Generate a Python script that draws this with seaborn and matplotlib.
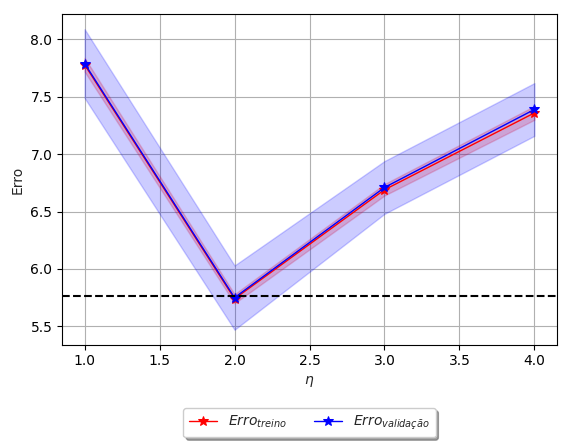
import matplotlib
matplotlib.use("Agg")
import matplotlib.pyplot as plt
import seaborn as sns
import numpy as np

eta = [1.0, 2.0, 3.0, 4.0]
treino = [7.78, 5.74, 6.69, 7.36]
treino_std = [0.06, 0.04, 0.05, 0.06]
valid = [7.79, 5.75, 6.71, 7.39]
valid_std = [0.30, 0.28, 0.23, 0.23]
baseline = 5.76

sns.set_style("ticks")
plt.rcParams['font.family'] = ['DejaVu Sans']
fig, ax = plt.subplots(figsize=(5.7, 4.42), dpi=100)
fig.subplots_adjust(left=0.109, right=0.977, top=0.968, bottom=0.22)

t = np.array(treino); ts = np.array(treino_std)
v = np.array(valid); vs = np.array(valid_std)
ax.fill_between(eta, t - ts, t + ts, color='red', alpha=0.2)
ax.fill_between(eta, v - vs, v + vs, color='blue', alpha=0.2)
sns.lineplot(x=eta, y=treino, ax=ax, color='red', marker='*', markersize=7,
             markeredgecolor='red', linewidth=1, label=r'$Erro_{treino}$')
sns.lineplot(x=eta, y=valid, ax=ax, color='blue', marker='*', markersize=7,
             markeredgecolor='blue', linewidth=1, label=r'$Erro_{validação}$')
ax.axhline(baseline, color='black', linestyle='--', linewidth=1.5)

ax.set_xlabel(r'$\eta$')
ax.set_ylabel('Erro')
ax.grid(True, color='#b0b0b0', linewidth=0.8)
for s in ax.spines.values():
    s.set_visible(True); s.set_color('black'); s.set_linewidth(0.8)
ax.tick_params(direction='out', length=3.5, width=0.8, colors='black', labelsize=10)
ax.legend(loc='upper center', bbox_to_anchor=(0.5, -0.17), ncol=2,
          fancybox=True, shadow=True, fontsize=10)
fig.savefig('out.png', dpi=100)
